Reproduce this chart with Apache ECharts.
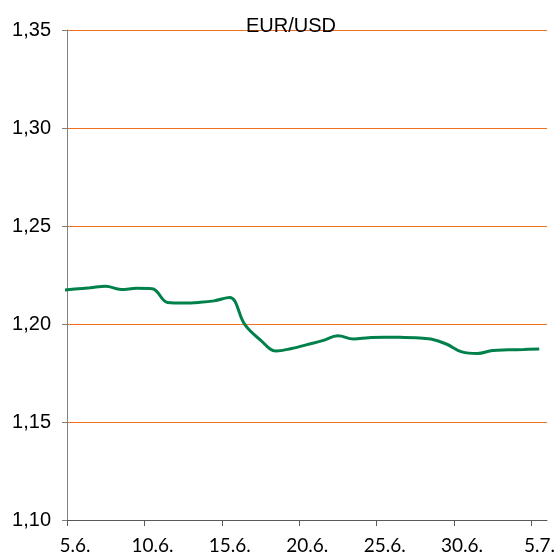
<!DOCTYPE html>
<html>
<head>
<meta charset="utf-8">
<script src="https://cdn.jsdelivr.net/npm/echarts@6/dist/echarts.min.js"></script>
<style>
  html, body { margin: 0; padding: 0; background: #fff; }
  #chart { width: 558px; height: 558px; }
</style>
</head>
<body>
<div id="chart"></div>
<script>
// daily EUR/USD readings, 4.6. .. 5.7.
var dates = ['4.6.', '5.6.', '6.6.', '7.6.', '8.6.', '9.6.', '10.6.', '11.6.',
  '12.6.', '13.6.', '14.6.', '15.6.', '16.6.', '17.6.', '18.6.', '19.6.',
  '20.6.', '21.6.', '22.6.', '23.6.', '24.6.', '25.6.', '26.6.', '27.6.',
  '28.6.', '29.6.', '30.6.', '1.7.', '2.7.', '3.7.', '4.7.', '5.7.']
var rates = [1.2170, 1.2178, 1.2185, 1.2192, 1.2176, 1.2182, 1.2180, 1.2110,
  1.2107, 1.2110, 1.2118, 1.2135, 1.1995, 1.1918, 1.1862, 1.1875,
  1.1895, 1.1915, 1.1940, 1.1924, 1.1930, 1.1933, 1.1932, 1.1930,
  1.1923, 1.1898, 1.1858, 1.1850, 1.1865, 1.1868, 1.1870, 1.1872]

var tickDays = [0, 5, 10, 15, 20, 25, 30]
var tickLabels = ['5.6.', '10.6.', '15.6.', '20.6.', '25.6.', '30.6.', '5.7.']

// day 0 = 5.6., each point sits in the middle of its day
var points = rates.map(function (v, i) { return [i - 0.5, v] })

var chart = echarts.init(document.getElementById('chart'))
chart.setOption({
  animation: false,
  title: {
    text: 'EUR/USD',
    left: 286,
    top: 11,
    textAlign: 'center',
    textStyle: {
      fontFamily: 'Liberation Sans',
      fontSize: 20,
      fontWeight: 'normal',
      color: '#000'
    }
  },
  // 490px tall plot -> gridlines land on whole pixels (98px per step)
  grid: {
    left: 67,
    right: 10,
    top: 30,
    bottom: 38
  },
  xAxis: {
    type: 'value',
    min: 0,
    max: 31,
    interval: 5,
    axisLine: { lineStyle: { color: '#595959', width: 1 } },
    axisTick: {
      customValues: tickDays,
      length: 6,
      lineStyle: { color: '#595959' }
    },
    axisLabel: {
      customValues: tickDays,
      margin: 16,
      padding: [0, 0, 0, 16],
      fontFamily: 'Lato',
      fontSize: 19,
      color: '#000',
      formatter: function (v) {
        return tickLabels[tickDays.indexOf(v)] || ''
      }
    },
    splitLine: { show: false }
  },
  yAxis: {
    type: 'value',
    min: 1.10,
    max: 1.35,
    interval: 0.05,
    axisLine: { show: true, lineStyle: { color: '#808080', width: 1 } },
    axisTick: { show: true, length: 5, lineStyle: { color: '#808080' } },
    axisLabel: {
      margin: 16,
      fontFamily: 'Liberation Sans',
      fontSize: 20,
      color: '#000',
      formatter: function (v) {
        return v.toFixed(2).replace('.', ',')
      }
    },
    splitLine: {
      show: true,
      lineStyle: { color: '#F07020', width: 1 }
    }
  },
  series: [
    {
      name: 'EUR/USD',
      type: 'line',
      data: points,
      smooth: 0.4,
      clip: true,
      showSymbol: false,
      lineStyle: { color: '#00804A', width: 3 }
    }
  ]
})
</script>
</body>
</html>
